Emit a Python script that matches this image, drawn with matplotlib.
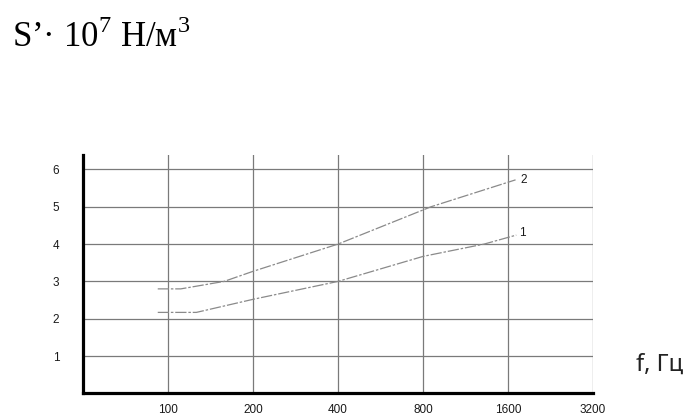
import matplotlib
matplotlib.use('Agg')
import matplotlib.pyplot as plt
import matplotlib.ticker as mticker

# data (f in Hz, S' in 10^7 N/m^3)
f_ticks = [100, 200, 400, 800, 1600, 3200]
s_ticks = [1, 2, 3, 4, 5, 6]

f_curve1 = [92, 126, 200, 400, 800, 1316, 1710]
s_curve1 = [2.17, 2.17, 2.52, 3.0, 3.67, 4.0, 4.24]

f_curve2 = [92, 111, 158, 200, 400, 854, 1700]
s_curve2 = [2.8, 2.8, 3.0, 3.27, 4.0, 5.0, 5.72]

plt.rcParams['mathtext.fontset'] = 'custom'
plt.rcParams['mathtext.rm'] = 'Liberation Serif'

fig = plt.figure(figsize=(6.97, 4.15), dpi=100)
ax = fig.add_axes([0.119, 0.052, 0.732, 0.574])

ax.set_xscale('log', base=2)
ax.set_xlim(50, 3200)
ax.set_ylim(0, 6.38)
ax.set_xticks(f_ticks)
ax.xaxis.set_major_formatter(mticker.FixedFormatter([str(v) for v in f_ticks]))
ax.xaxis.set_minor_locator(mticker.NullLocator())
ax.set_yticks(s_ticks)
ax.set_yticklabels([str(v) for v in s_ticks])

ax.grid(True, color='#7a7a7a', linewidth=0.9)
ax.set_axisbelow(True)
for side in ['top', 'right']:
    ax.spines[side].set_visible(False)
for side in ['left', 'bottom']:
    ax.spines[side].set_linewidth(2.3)
    ax.spines[side].set_color('black')

ax.tick_params(length=0, labelsize=8.5)
ax.tick_params(axis='y', pad=17)
ax.tick_params(axis='x', pad=7.5)
for lab in ax.get_xticklabels() + ax.get_yticklabels():
    lab.set_family('Liberation Sans')
    lab.set_color('#1a1a1a')

dash = (0, (9, 1.5, 2, 1.5))
ax.plot(f_curve1, s_curve1, color='#8a8a8a', lw=0.9, linestyle=dash, clip_on=False)
ax.plot(f_curve2, s_curve2, color='#8a8a8a', lw=0.9, linestyle=dash, clip_on=False)
ax.text(f_curve1[-1] * 1.02, s_curve1[-1] + 0.05, '1', fontsize=8.5, family='Liberation Sans',
        va='center', ha='left', color='#1a1a1a')
ax.text(f_curve2[-1] * 1.04, s_curve2[-1] + 0.0, '2', fontsize=8.5, family='Liberation Sans',
        va='center', ha='left', color='#1a1a1a')

fig.text(12 / 697, 1 - 47 / 415, 'S’· 10$^7$ Н/м$^3$', fontsize=25, family='Liberation Serif',
         ha='left', va='baseline')
fig.text(636 / 697, 1 - 365 / 415, 'f, Гц', fontsize=17, family='Noto Sans',
         ha='left', va='center', color='#222222')

fig.savefig('out.png', dpi=100)
